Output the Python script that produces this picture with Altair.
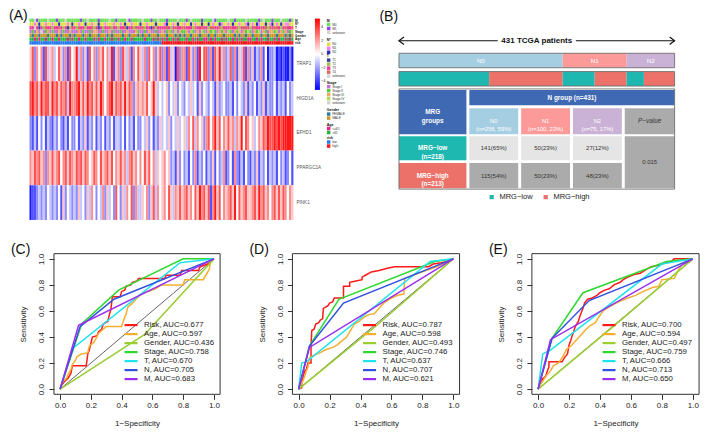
import altair as alt
import pandas as pd

FONT = "Liberation Sans"

# ---------------- Panel A : heatmap (levels 1 = deep blue ... 5 = white ... 9 = deep red) ----------------
GENES = ["TRAP1", "HIGD1A", "EFHD1", "PPARGC1A", "PINK1"]
EXPR_TRAP1 = ("6837572846" "7458637285" "6947362857" "3768574926" "7386472758" "6473857368"
              "3728461837" "7286372958" "8372869473" "4837264827" "3624372513" "3412121131")
EXPR_HIGD1A = ("8978697886" "9786878497" "7896869786" "8697578968" "7869687367" "6768569645"
               "4563546354" "3546452635" "4354263453" "3425354362" "4352436243" "3524342534")
EXPR_EFHD1 = ("3242535243" "2435324253" "3524362435" "2435243524" "4352534253" "3546352436"
              "4546354645" "6475847563" "7857968576" "8674769587" "5645768798" "8989899999")
EXPR_PPARGC1A = ("7687867376" "8678578687" "6878687568" "7586786857" "6867478675" "7586857465"
                 "6756342635" "3425372435" "2436253472" "3527324253" "2436243524" "3425342352")
EXPR_PINK1 = ("1223434354" "3435263543" "4364536475" "3547364538" "5364758374" "4657368475"
              "6758647686" "7867586978" "6827968576" "7869586786" "6786978675" "7868687576")
EXPR = [EXPR_TRAP1, EXPR_HIGD1A, EXPR_EFHD1, EXPR_PPARGC1A, EXPR_PINK1]
LEVEL_STEP = 1.2          # z-score per level
COLORBAR_VALUES = [-4, -2, 0, 2, 4]

ANN_M = ("aaubaaaaua" "aabaaauaaa" "aaabaauaaa" "abaaaauaab" "aaaaubaaaa" "auaaabaaua"
         "aabaaaauaa" "abauaaaaba" "aaaubaaaaa" "uaabaaaaua" "aaaabauaaa" "baaauaaaba")
ANN_N = ("0010200100" "1002000102" "0010020010" "0200100010" "0102001000" "2001000200"
         "0120010200" "1002010020" "0201002100" "1020010012" "0102100201" "2010201100")
ANN_T = ("33u3132433" "2334323123" "3243323342" "3132334233" "2334133243" "3423313233"
         "3343234334" "4333243343" "3244334233" "3433423443" "2343343424" "3443234334")
ANN_STAGE = ("12131u1231" "2113121131" "1131211213" "3112113121" "1211311132" "1121311211"
             "3123214132" "2314213142" "1324213231" "4213231324" "2132413213" "3241323124")
ANN_GENDER = ("MFMMFMMMFM" "MMFMFMMMFM" "FMMMFMMFMM" "MFMMMFMFMM" "MMFMMFMMMF" "MFMMFMMMFM"
              "MMFMMMFMFM" "FMMFMMMFMM" "MFMMFMMMFM" "MMMFMFMMFM" "MFMMMFMMFM" "MMFMMMFMFM")
ANN_AGE = ("ooyoyooyoo" "yooyoooyoy" "ooyooyoooy" "oyooyooyoo" "yooyooyooo" "ooyoooyoyo"
           "yoyooyoyoo" "oyooyoyooy" "yoyoyooyoy" "ooyoyoyooy" "yooyoyooyo" "oyoyooyoyo")
ANN_RISK = "l" * 60 + "h" * 60

ANN_SPECS = [
    ("M", ANN_M, {"a": "M0", "b": "M1", "u": "unknown"},
     ["M0", "M1", "unknown"], ["#6EE05A", "#8B45E8", "#D3D3D3"]),
    ("N*", ANN_N, {"0": "N0", "1": "N1", "2": "N2"},
     ["N0", "N1", "N2"], ["#E2DC45", "#FF7BF0", "#2B2FB8"]),
    ("T", ANN_T, {"1": "T1", "2": "T2", "3": "T3", "4": "T4", "u": "unknown"},
     ["T1", "T2", "T3", "T4", "unknown"], ["#33409F", "#9CBF45", "#EE3A96", "#D9685A", "#D3D3D3"]),
    ("Stage", ANN_STAGE, {"1": "Stage I", "2": "Stage II", "3": "Stage III", "4": "Stage IV", "u": "unknown"},
     ["Stage I", "Stage II", "Stage III", "Stage IV", "unknown"],
     ["#C86FD6", "#5BCB45", "#EFA95A", "#B0DB5A", "#D3D3D3"]),
    ("Gender", ANN_GENDER, {"F": "FEMALE", "M": "MALE"}, ["FEMALE", "MALE"], ["#2A7BA0", "#CC9620"]),
    ("Age", ANN_AGE, {"y": "<=65", "o": ">65"}, ["<=65", ">65"], ["#EE1C8C", "#1DB83A"]),
    ("risk", ANN_RISK, {"l": "low", "h": "high"}, ["low", "high"], ["#2177EB", "#F0161B"]),
]

# ---------------- Panel B : N group table ----------------
N_GROUPS = ["N0", "N1", "N2"]
N_COUNTS = [256, 100, 75]
N_PCTS = [59, 23, 17]
LOW_COUNTS = [141, 50, 27]
LOW_PCTS = [65, 23, 12]
HIGH_COUNTS = [115, 50, 48]
HIGH_PCTS = [54, 23, 23]
MRG_GROUPS = ["MRG−low", "MRG−high"]
MRG_SIZES = [218, 213]
TOTAL = 431
P_VALUE = "0.015"
N_COLORS = ["#A6CEE3", "#FB9A99", "#CAB2D6"]
MRG_COLORS = ["#1FB8B0", "#EC7168"]
HEAD_BLUE = "#3F69B3"
LIGHT_CELL = "#E5E5E5"
DARK_CELL = "#ABABAB"

# ---------------- Panels C-E : ROC curves (1-specificity, sensitivity) ----------------
ROC_NAMES = ["Risk", "Age", "Gender", "Stage", "T", "N", "M"]
ROC_COLORS = ["#FF1A1A", "#F5AE2F", "#9ACD32", "#2FD82F", "#1EE3EE", "#3050E0", "#9A2EF0"]

AUC_C = ["0.677", "0.597", "0.436", "0.758", "0.670", "0.705", "0.683"]
C_RISK = [(0, 0), (0.01, 0.03), (0.03, 0.06), (0.05, 0.08), (0.07, 0.12), (0.08, 0.18), (0.17, 0.18),
          (0.18, 0.27), (0.19, 0.3), (0.2, 0.35), (0.21, 0.4), (0.24, 0.41), (0.25, 0.44), (0.27, 0.46),
          (0.28, 0.5), (0.31, 0.52), (0.32, 0.57), (0.33, 0.61), (0.34, 0.71), (0.39, 0.71), (0.4, 0.75),
          (0.42, 0.76), (0.43, 0.79), (0.46, 0.8), (0.47, 0.82), (0.5, 0.83), (0.51, 0.85), (0.68, 0.85),
          (0.69, 0.875), (0.78, 0.875), (0.79, 0.91), (0.9, 0.91), (0.91, 0.94), (0.96, 0.96), (1, 1)]
C_AGE = [(0, 0), (0.01, 0.04), (0.02, 0.06), (0.04, 0.08), (0.05, 0.11), (0.07, 0.15), (0.08, 0.19),
         (0.1, 0.22), (0.11, 0.25), (0.14, 0.27), (0.18, 0.28), (0.19, 0.33), (0.22, 0.36), (0.23, 0.38),
         (0.25, 0.43), (0.27, 0.45), (0.3, 0.48), (0.4, 0.48), (0.41, 0.52), (0.43, 0.58), (0.44, 0.63),
         (0.47, 0.66), (0.5, 0.7), (0.53, 0.73), (0.57, 0.75), (0.62, 0.77), (0.66, 0.8), (0.8, 0.8),
         (0.81, 0.84), (0.93, 0.84), (0.95, 0.88), (0.97, 0.92), (0.98, 1.0), (1, 1)]
C_GENDER = [(0, 0), (0.55, 0.42), (1, 1)]
C_STAGE = [(0, 0), (0.14, 0.5), (0.38, 0.76), (0.8, 1.0), (1, 1)]
C_T = [(0, 0), (0.08, 0.31), (0.78, 0.97), (1, 1)]
C_N = [(0, 0), (0.13, 0.48), (0.35, 0.69), (1, 1)]
C_M = [(0, 0), (0.12, 0.49), (1, 1)]

AUC_D = ["0.787", "0.598", "0.493", "0.746", "0.637", "0.707", "0.621"]
D_RISK = [(0, 0), (0.02, 0.01), (0.02, 0.04), (0.03, 0.1), (0.04, 0.14), (0.05, 0.15), (0.06, 0.2),
          (0.08, 0.2), (0.08, 0.33), (0.085, 0.45), (0.1, 0.46), (0.11, 0.5), (0.13, 0.51), (0.14, 0.53),
          (0.155, 0.54), (0.16, 0.62), (0.19, 0.64), (0.2, 0.66), (0.22, 0.67), (0.23, 0.7), (0.29, 0.7),
          (0.29, 0.79), (0.33, 0.79), (0.33, 0.82), (0.37, 0.83), (0.41, 0.84), (0.41, 0.86), (0.44, 0.88),
          (0.47, 0.9), (0.52, 0.91), (0.55, 0.92), (0.58, 0.93), (0.62, 0.94), (0.84, 0.94), (0.87, 0.96),
          (0.92, 0.97), (0.96, 0.98), (0.97, 0.99), (1, 1)]
D_AGE = [(0, 0), (0.02, 0.04), (0.04, 0.1), (0.05, 0.14), (0.06, 0.17), (0.07, 0.24), (0.1, 0.26),
         (0.14, 0.28), (0.17, 0.3), (0.22, 0.32), (0.25, 0.34), (0.28, 0.37), (0.31, 0.4), (0.33, 0.44),
         (0.36, 0.5), (0.39, 0.52), (0.42, 0.55), (0.45, 0.57), (0.49, 0.58), (0.52, 0.62), (0.55, 0.66),
         (0.6, 0.7), (0.64, 0.72), (0.68, 0.73), (0.685, 0.85), (0.75, 0.88), (0.8, 0.9), (0.87, 0.93),
         (0.93, 0.96), (1, 1)]
D_GENDER = [(0, 0), (0.5, 0.485), (1, 1)]
D_STAGE = [(0, 0), (0.07, 0.33), (0.26, 0.69), (0.88, 0.98), (1, 1)]
D_T = [(0, 0), (0.02, 0.2), (0.05, 0.21), (0.85, 0.98), (1, 1)]
D_N = [(0, 0), (0.07, 0.33), (0.29, 0.66), (1, 1)]
D_M = [(0, 0), (0.07, 0.32), (1, 1)]

AUC_E = ["0.700", "0.594", "0.497", "0.759", "0.666", "0.713", "0.650"]
E_RISK = [(0, 0), (0.01, 0.03), (0.02, 0.05), (0.03, 0.08), (0.05, 0.1), (0.06, 0.14), (0.07, 0.17),
          (0.07, 0.21), (0.155, 0.21), (0.17, 0.24), (0.19, 0.27), (0.2, 0.34), (0.21, 0.37), (0.22, 0.41),
          (0.23, 0.44), (0.24, 0.48), (0.26, 0.52), (0.27, 0.56), (0.28, 0.59), (0.29, 0.62), (0.3, 0.66),
          (0.32, 0.69), (0.35, 0.7), (0.38, 0.72), (0.4, 0.74), (0.43, 0.76), (0.46, 0.77), (0.49, 0.8),
          (0.53, 0.82), (0.55, 0.84), (0.58, 0.86), (0.62, 0.88), (0.66, 0.89), (0.7, 0.92), (0.73, 0.94),
          (0.78, 0.95), (0.82, 0.97), (0.86, 0.98), (0.88, 1.0), (1, 1)]
E_AGE = [(0, 0), (0.01, 0.03), (0.03, 0.06), (0.05, 0.1), (0.08, 0.14), (0.1, 0.18), (0.13, 0.2),
         (0.15, 0.23), (0.17, 0.27), (0.18, 0.3), (0.22, 0.34), (0.25, 0.38), (0.28, 0.42), (0.31, 0.46),
         (0.34, 0.49), (0.37, 0.51), (0.39, 0.55), (0.42, 0.6), (0.47, 0.64), (0.52, 0.67), (0.58, 0.7),
         (0.63, 0.72), (0.68, 0.75), (0.74, 0.78), (0.78, 0.79), (0.8, 0.84), (0.88, 0.85), (0.9, 0.9),
         (0.92, 0.94), (0.94, 0.97), (0.98, 0.98), (1, 1)]
E_GENDER = [(0, 0), (0.5, 0.495), (1, 1)]
E_STAGE = [(0, 0), (0.09, 0.39), (0.29, 0.74), (0.83, 0.98), (1, 1)]
E_T = [(0, 0), (0.03, 0.27), (0.08, 0.3), (0.8, 0.96), (1, 1)]
E_N = [(0, 0), (0.09, 0.39), (0.33, 0.68), (1, 1)]
E_M = [(0, 0), (0.08, 0.38), (1, 1)]
ROC_TICKS = [0, 0.2, 0.4, 0.6, 0.8, 1.0]

# =====================================================================
# Page layout: one canvas; reference pixel layout compressed to fit inside the 8px page margin
W_TOTAL, H_TOTAL = 693, 421
SX, SY = W_TOTAL / 709, H_TOTAL / 437


def px(v):
    return round(v * SX, 2)


def py(v):
    return round(v * SY, 2)


ANN_ROW_H = 3.9
HEAT_TOP = 29
GENE_H = 36
A_UNITS = HEAT_TOP + GENE_H * len(GENES)
A_BOX_X, A_BOX_Y = (22, 292), (11, 220)
A_LEGEND_X = 326
A_LEGEND_Y = [11, 31.5, 48, 75.5, 104, 119, 133]

B_W, B_H = 282, 163
B_BOX_X, B_BOX_Y = (400, 682), (25, 188)
B_ARROW_Y = 9
B_NBAR = (22, 37)
B_MBAR = (41, 56)
B_COLS = [(0, 69), (72, 122), (125, 175), (178, 228), (231, 282)]
B_ROW_H1, B_ROW_H2, B_ROW_LOW, B_ROW_HIGH = (60, 76), (79, 106), (108, 133), (136, 162)

ROC_BOX_X = {"(C)": (47, 217), "(D)": (291, 462), "(E)": (536, 707)}
ROC_BOX_Y = (255, 401)
ROC_DOM = [-0.04, 1.04]

layers = []


def tag_layer(label, xref, yref):
    return alt.Chart(pd.DataFrame({"t": [label]})).mark_text(
        align="left", baseline="middle", fontSize=14, color="#111"
    ).encode(x=alt.value(px(xref)), y=alt.value(py(yref)), text="t:N")


def rect_enc(xs, ys):
    return dict(x=alt.X("x0:Q", scale=xs, axis=None), x2=alt.X2("x1:Q"),
                y=alt.Y("y0:Q", scale=ys, axis=None), y2=alt.Y2("y1:Q"))


# ---------------- Panel A ----------------
NCOL = min(len(s) for s in EXPR + [a[1] for a in ANN_SPECS])


def xsA():
    return alt.Scale(domain=[0, NCOL], range=[px(A_BOX_X[0]), px(A_BOX_X[1])], nice=False, zero=False)


def ysA():
    return alt.Scale(domain=[0, A_UNITS], range=[py(A_BOX_Y[0]), py(A_BOX_Y[1])], nice=False, zero=False)


heat_rows = []
for gi, (g, s) in enumerate(zip(GENES, EXPR)):
    for j in range(NCOL):
        heat_rows.append({"gene": g, "x0": j, "x1": j + 1,
                          "y0": HEAT_TOP + gi * GENE_H, "y1": HEAT_TOP + (gi + 1) * GENE_H,
                          "z": (int(s[j]) - 5) * LEVEL_STEP})
layers.append(alt.Chart(pd.DataFrame(heat_rows)).mark_rect(strokeWidth=0).encode(
    **rect_enc(xsA(), ysA()),
    color=alt.Color("z:Q",
                    scale=alt.Scale(domain=[-5.3, 0, 5.3], range=["#0000FF", "#FFFFFF", "#FF0000"],
                                    interpolate="rgb"),
                    legend=alt.Legend(orient="none", legendX=px(314), legendY=py(11), title=None,
                                      direction="vertical", gradientLength=py(85) - py(11),
                                      gradientThickness=5, values=COLORBAR_VALUES, labelFontSize=4,
                                      labelColor="#333", gradientStrokeWidth=0, labelOffset=1, padding=0)),
))

for i, (name, s, codes, dom, rng) in enumerate(ANN_SPECS):
    field = f"ann{i}"
    rows = [{"x0": j, "x1": j + 1, "y0": i * ANN_ROW_H, "y1": (i + 1) * ANN_ROW_H - 0.3,
             field: codes[s[j]]} for j in range(NCOL)]
    layers.append(
        alt.Chart(pd.DataFrame(rows)).mark_rect(strokeWidth=0).encode(
            **rect_enc(xsA(), ysA()),
            color=alt.Color(f"{field}:N", scale=alt.Scale(domain=dom, range=rng),
                            legend=alt.Legend(title=name, orient="none", legendX=px(A_LEGEND_X),
                                              legendY=py(A_LEGEND_Y[i]), symbolType="square",
                                              symbolSize=12, symbolStrokeWidth=0, labelFontSize=3.2,
                                              titleFontSize=3.6, titlePadding=0.3, rowPadding=-0.1,
                                              padding=0, labelOffset=1.5, labelColor="#333",
                                              titleColor="#111")),
        )
    )

row_lab = pd.DataFrame({"lab": [a[0] for a in ANN_SPECS],
                        "xr": [NCOL] * len(ANN_SPECS),
                        "ym": [(i + 0.5) * ANN_ROW_H for i in range(len(ANN_SPECS))]})
layers.append(alt.Chart(row_lab).mark_text(align="left", baseline="middle", fontSize=3.2,
                                           fontWeight="bold", dx=1.5, color="#222").encode(
    x=alt.X("xr:Q", scale=xsA(), axis=None), y=alt.Y("ym:Q", scale=ysA(), axis=None), text="lab:N"))

gene_lab = pd.DataFrame({"lab": GENES, "xr": [NCOL] * len(GENES),
                         "ym": [HEAT_TOP + (g + 0.5) * GENE_H for g in range(len(GENES))]})
layers.append(alt.Chart(gene_lab).mark_text(align="left", baseline="middle", fontSize=4.6,
                                            dx=3, color="#555").encode(
    x=alt.X("xr:Q", scale=xsA(), axis=None), y=alt.Y("ym:Q", scale=ysA(), axis=None), text="lab:N"))
layers.append(tag_layer("(A)", 1, 8))


# ---------------- Panel B ----------------
def xsB():
    return alt.Scale(domain=[0, B_W], range=[px(B_BOX_X[0]), px(B_BOX_X[1])], nice=False, zero=False)


def ysB():
    return alt.Scale(domain=[0, B_H], range=[py(B_BOX_Y[0]), py(B_BOX_Y[1])], nice=False, zero=False)


unit = B_W / TOTAL
nbar = []
acc = 0
for g, c, col in zip(N_GROUPS, N_COUNTS, N_COLORS):
    nbar.append({"x0": acc * unit, "x1": (acc + c) * unit, "y0": B_NBAR[0], "y1": B_NBAR[1], "fill": col,
                 "txt": g, "xm": (acc + c / 2) * unit, "ym": (B_NBAR[0] + B_NBAR[1]) / 2})
    acc += c
mbar = []
acc = 0
for lo, hi in zip(LOW_COUNTS, HIGH_COUNTS):
    for grp, c in ((MRG_GROUPS[0], lo), (MRG_GROUPS[1], hi)):
        mbar.append({"x0": acc * unit, "x1": (acc + c) * unit, "y0": B_MBAR[0], "y1": B_MBAR[1], "grp": grp})
        acc += c

cells = []


def add_cell(xr, yr, fill, txt, style):
    cells.append({"x0": xr[0], "x1": xr[1], "y0": yr[0], "y1": yr[1], "fill": fill, "txt": txt,
                  "style": style, "xm": (xr[0] + xr[1]) / 2, "ym": (yr[0] + yr[1]) / 2})


add_cell(B_COLS[0], (B_ROW_H1[0], B_ROW_H2[1]), HEAD_BLUE, "MRG\ngroups", "wb")
add_cell((B_COLS[1][0], B_COLS[4][1]), B_ROW_H1, HEAD_BLUE, f"N group (n={TOTAL})", "wb")
for k, g in enumerate(N_GROUPS):
    add_cell(B_COLS[k + 1], B_ROW_H2, N_COLORS[k], f"{g}\n(n={N_COUNTS[k]}, {N_PCTS[k]}%)", "w")
    add_cell(B_COLS[k + 1], B_ROW_LOW, LIGHT_CELL, f"{LOW_COUNTS[k]}({LOW_PCTS[k]}%)", "d")
    add_cell(B_COLS[k + 1], B_ROW_HIGH, DARK_CELL, f"{HIGH_COUNTS[k]}({HIGH_PCTS[k]}%)", "d")
add_cell(B_COLS[4], B_ROW_H2, DARK_CELL, "P−value", "di")
add_cell(B_COLS[0], B_ROW_LOW, MRG_COLORS[0], f"{MRG_GROUPS[0]}\n(n={MRG_SIZES[0]})", "wb")
add_cell(B_COLS[0], B_ROW_HIGH, MRG_COLORS[1], f"{MRG_GROUPS[1]}\n(n={MRG_SIZES[1]})", "wb")
add_cell(B_COLS[4], (B_ROW_LOW[0], B_ROW_HIGH[1]), DARK_CELL, P_VALUE, "d")
cells_df = pd.DataFrame(cells)

fill_df = pd.concat([pd.DataFrame(nbar)[["x0", "x1", "y0", "y1", "fill"]],
                     cells_df[["x0", "x1", "y0", "y1", "fill"]]], ignore_index=True)
layers.append(alt.Chart(fill_df).mark_rect(strokeWidth=0).encode(
    **rect_enc(xsB(), ysB()), color=alt.Color("fill:N", scale=None)))

layers.append(alt.Chart(pd.DataFrame(mbar)).mark_rect(strokeWidth=0).encode(
    **rect_enc(xsB(), ysB()),
    color=alt.Color("grp:N", scale=alt.Scale(domain=MRG_GROUPS, range=MRG_COLORS),
                    legend=alt.Legend(title=None, orient="none", direction="horizontal",
                                      legendX=px(491), legendY=py(192), symbolType="square", symbolSize=18,
                                      symbolStrokeWidth=0, labelFontSize=7.5, labelColor="#222",
                                      columnPadding=9, padding=0, labelOffset=4)),
))

outline_df = pd.DataFrame([
    {"x0": 0, "x1": B_W, "y0": B_NBAR[0], "y1": B_NBAR[1]},
    {"x0": 0, "x1": B_W, "y0": B_MBAR[0], "y1": B_MBAR[1]},
    {"x0": 0, "x1": B_W, "y0": B_ROW_H1[0] - 1, "y1": B_ROW_HIGH[1] + 1},
])
layers.append(alt.Chart(outline_df).mark_rect(filled=False, stroke="#6E6E6E", strokeWidth=0.9).encode(
    **rect_enc(xsB(), ysB())))


def cell_text(df, **kw):
    return alt.Chart(df).mark_text(align="center", baseline="middle", lineBreak="\n", **kw).encode(
        x=alt.X("xm:Q", scale=xsB(), axis=None), y=alt.Y("ym:Q", scale=ysB(), axis=None), text="txt:N")


layers.append(cell_text(cells_df[cells_df["style"] == "wb"], fontSize=6.4, fontWeight="bold",
                        color="white", lineHeight=8.5))
layers.append(cell_text(cells_df[cells_df["style"] == "w"], fontSize=5.8, color="white", lineHeight=8))
layers.append(cell_text(cells_df[cells_df["style"] == "d"], fontSize=6, color="#333"))
layers.append(cell_text(cells_df[cells_df["style"] == "di"], fontSize=6.4, fontStyle="italic", color="#333"))
layers.append(cell_text(pd.DataFrame(nbar), fontSize=6.2, color="white"))

arrow_df = pd.DataFrame([{"x0": 0, "x1": B_W / 2 - 40, "y": B_ARROW_Y},
                         {"x0": B_W / 2 + 40, "x1": B_W, "y": B_ARROW_Y}])
layers.append(alt.Chart(arrow_df).mark_rule(color="#111", strokeWidth=1).encode(
    x=alt.X("x0:Q", scale=xsB(), axis=None), x2=alt.X2("x1:Q"), y=alt.Y("y:Q", scale=ysB(), axis=None)))
layers.append(alt.Chart(pd.DataFrame({"x": [0], "y": [B_ARROW_Y]})).mark_point(
    shape="M1.3,-1L0,0L1.3,1", filled=False, size=58, color="#111", strokeWidth=1.2, opacity=1).encode(
    x=alt.X("x:Q", scale=xsB(), axis=None), y=alt.Y("y:Q", scale=ysB(), axis=None)))
layers.append(alt.Chart(pd.DataFrame({"x": [B_W], "y": [B_ARROW_Y]})).mark_point(
    shape="M-1.3,-1L0,0L-1.3,1", filled=False, size=58, color="#111", strokeWidth=1.2, opacity=1).encode(
    x=alt.X("x:Q", scale=xsB(), axis=None), y=alt.Y("y:Q", scale=ysB(), axis=None)))
layers.append(alt.Chart(pd.DataFrame({"xm": [B_W / 2], "ym": [B_ARROW_Y],
                                      "txt": [f"{TOTAL} TCGA patients"]})).mark_text(
    align="center", baseline="middle", fontSize=8, fontWeight="bold", color="#111").encode(
    x=alt.X("xm:Q", scale=xsB(), axis=None), y=alt.Y("ym:Q", scale=ysB(), axis=None), text="txt:N"))
layers.append(tag_layer("(B)", 380, 9))


# ---------------- ROC panels ----------------
def roc_layers(tag, curves, aucs):
    bx = ROC_BOX_X[tag]
    labels = [f"{n}, AUC={a}" for n, a in zip(ROC_NAMES, aucs)]
    rows = []
    for lab, pts in zip(labels, curves):
        for k, (fx, ty) in enumerate(pts):
            rows.append({"series": lab, "fpr": fx, "tpr": ty, "k": k})
    df = pd.DataFrame(rows)

    def sx():
        return alt.Scale(domain=ROC_DOM, range=[px(bx[0]), px(bx[1])], nice=False, zero=False)

    def sy():
        return alt.Scale(domain=ROC_DOM, range=[py(ROC_BOX_Y[1]), py(ROC_BOX_Y[0])], nice=False, zero=False)

    common = dict(values=ROC_TICKS, format=".1f", grid=False, domain=False, ticks=True, tickSize=5,
                  tickColor="#333", labelFontSize=8, labelColor="#222", titleFontSize=8,
                  titleFontWeight="normal", titleColor="#222")
    xax = alt.Axis(title="1−Specificity", orient="bottom", offset=py(ROC_BOX_Y[1]) - H_TOTAL,
                   labelPadding=2, titlePadding=10, **common)
    yax = alt.Axis(title="Sensitivity", orient="left", offset=-px(bx[0]), labelAngle=270,
                   labelAlign="center", labelBaseline="bottom", labelPadding=3, titlePadding=10, **common)
    frame = alt.Chart(pd.DataFrame({"x0": [ROC_DOM[0]], "x1": [ROC_DOM[1]],
                                    "y0": [ROC_DOM[0]], "y1": [ROC_DOM[1]]})).mark_rect(
        filled=False, stroke="#333", strokeWidth=1).encode(**rect_enc(sx(), sy()))
    diag = alt.Chart(pd.DataFrame({"fpr": [0, 1], "tpr": [0, 1]})).mark_line(
        color="#555", strokeWidth=0.9).encode(x=alt.X("fpr:Q", scale=sx(), axis=None),
                                             y=alt.Y("tpr:Q", scale=sy(), axis=None))
    lines = alt.Chart(df).mark_line(strokeWidth=1.5).encode(
        x=alt.X("fpr:Q", scale=sx(), axis=xax), y=alt.Y("tpr:Q", scale=sy(), axis=yax), order="k:Q",
        color=alt.Color("series:N", scale=alt.Scale(domain=labels, range=ROC_COLORS),
                        legend=alt.Legend(title=None, orient="none", legendX=px(bx[0] + 84) - 9,
                                          legendY=py(336) - 10.6, symbolType="M-2.6,0H2.6", symbolSize=25,
                                          symbolStrokeWidth=2.2, labelFontSize=7.8, labelColor="#222",
                                          rowPadding=-1, padding=0, labelOffset=9, labelLimit=200)),
    )
    return [frame, diag, lines, tag_layer(tag, bx[0] - 44, 251)]


layers += roc_layers("(C)", [C_RISK, C_AGE, C_GENDER, C_STAGE, C_T, C_N, C_M], AUC_C)
layers += roc_layers("(D)", [D_RISK, D_AGE, D_GENDER, D_STAGE, D_T, D_N, D_M], AUC_D)
layers += roc_layers("(E)", [E_RISK, E_AGE, E_GENDER, E_STAGE, E_T, E_N, E_M], AUC_E)

chart = alt.layer(*layers).resolve_scale(
    x="independent", y="independent", color="independent"
).properties(
    width=W_TOTAL, height=H_TOTAL, autosize=alt.AutoSizeParams(type="none"), padding=0
).configure(font=FONT).configure_view(stroke="transparent")

chart.save("out.html", embed_options={"renderer": "svg", "actions": False})
